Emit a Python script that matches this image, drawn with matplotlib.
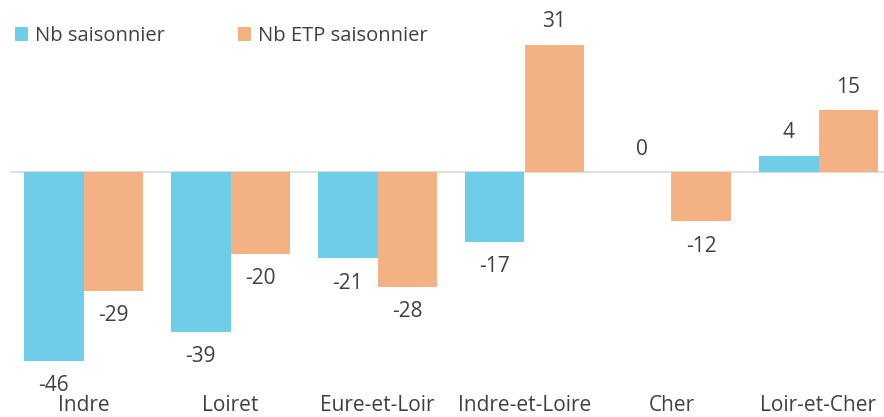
import numpy as np
import matplotlib.pyplot as plt

plt.rcParams['font.family'] = ['Open Sans', 'DejaVu Sans']

# data
departements = ['Indre', 'Loiret', 'Eure-et-Loir', 'Indre-et-Loire', 'Cher', 'Loir-et-Cher']
nb_saisonnier = [-46, -39, -21, -17, 0, 4]
nb_etp_saisonnier = [-29, -20, -28, 31, -12, 15]

blue = '#6ECEEA'
orange = '#F4B183'
txt = '#404040'

fig = plt.figure(figsize=(8.84, 4.17), dpi=100)
ax = fig.add_axes([10 / 884, 22 / 417, 882 / 884, 395 / 417])

x = np.arange(len(departements))
w = 0.408
b1 = ax.bar(x - w / 2, nb_saisonnier, w, color=blue, label='Nb saisonnier')
b2 = ax.bar(x + w / 2, nb_etp_saisonnier, w, color=orange, label='Nb ETP saisonnier')

ax.set_xlim(-0.5, 5.5)
ax.set_ylim(-54.4, 41.95)
ax.axhline(0, color='#D9D9D9', lw=1.2, zorder=0)

# value labels
for bars in (b1, b2):
    for r in bars:
        v = r.get_height()
        cx = r.get_x() + r.get_width() / 2
        off = -18 if v < 0 else 16.5
        ax.annotate(f'{v:.0f}', (cx, v), xytext=(0, off), textcoords='offset points',
                    ha='center', va='center', fontsize=15, color=txt)

ax.set_xticks(x)
ax.set_xticklabels(departements, fontsize=15, color=txt)
ax.tick_params(axis='x', length=0, pad=0)
ax.set_yticks([])
for s in ax.spines.values():
    s.set_visible(False)

fig.legend(loc='center left', bbox_to_anchor=(7 / 884, 1 - 36 / 417), ncol=2, frameon=False,
           fontsize=14.5, labelcolor=txt, handlelength=0.65, handleheight=0.65,
           handletextpad=0.35, columnspacing=3.6, borderaxespad=0)

fig.savefig('out.png', dpi=100)
